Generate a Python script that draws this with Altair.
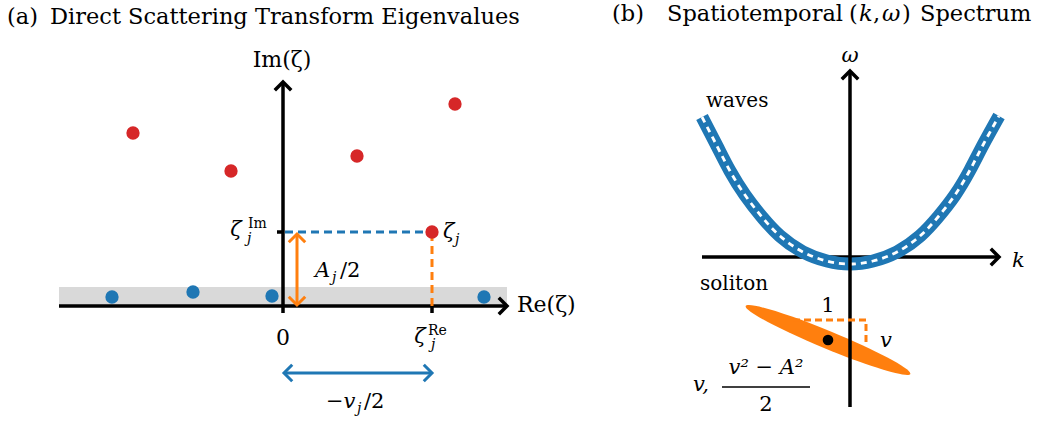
import altair as alt
import pandas as pd

BLUE = "#1f77b4"
ORANGE = "#ff7f0e"
RED = "#d62728"
GREY = "#d9d9d9"
FONT = "DejaVu Serif"

# ---------------- Panel (a): eigenvalues in the complex zeta plane ----------------
red_re = [-3.00, -1.04, 1.48, 3.44]
red_im = [3.46, 2.70, 3.00, 4.04]
zeta_j_re = 2.98
zeta_j_im = 1.48
blue_re = [-3.42, -1.80, -0.22, 4.02]
blue_im = [0.18, 0.28, 0.20, 0.18]
re_axis = [-4.48, 4.48]
im_axis = [-0.14, 4.48]
band_top = 0.38
vj_arrow_y = -1.34
aj_arrow_x = 0.28

# ---------------- Panel (b): (k, omega) spectrum ----------------
wave_k = [-2.96, -2.66, -2.40, -2.10, -1.76, -1.40, -0.94, -0.46, 0.00,
          0.46, 0.94, 1.40, 1.76, 2.10, 2.40, 2.66, 2.98]
wave_w = [2.80, 2.22, 1.72, 1.24, 0.80, 0.42, 0.10, -0.08, -0.14,
          -0.08, 0.10, 0.42, 0.80, 1.24, 1.74, 2.24, 2.82]
k_axis = [-2.96, 2.98]
w_axis = [-3.00, 3.72]
sol_k, sol_w = -0.44, -1.66
sol_angle = 22.4
slope_k = [-1.14, 0.32, 0.32]
slope_w = [-1.26, -1.26, -1.70]

XA, YA = [-5.66, 6.34], [-2.36, 6.12]
XB, YB = [-5.00, 3.80], [-3.34, 5.14]

CHEV = "M -1 1 L 0 0 L 1 1"
ELL = "M -1 0 A 1 0.1 0 1 1 1 0 A 1 0.1 0 1 1 -1 0 Z"

BIG = 21
SMALL = 14
TITLE = 22.5


def axes_for(xdom, ydom):
    def X(f):
        return alt.X(f, type="quantitative",
                     scale=alt.Scale(domain=xdom, nice=False, zero=False), axis=None)

    def Y(f):
        return alt.Y(f, type="quantitative",
                     scale=alt.Scale(domain=ydom, nice=False, zero=False), axis=None)
    return X, Y


def segs(X, Y, rows, **kw):
    df = pd.DataFrame(rows, columns=["x", "y", "x2", "y2"])
    return alt.Chart(df).mark_rule(**kw).encode(x=X("x"), y=Y("y"), x2="x2", y2="y2")


def heads(X, Y, rows, color, sw=3.0, size=270):
    df = pd.DataFrame(rows, columns=["x", "y", "ang"])
    return alt.Chart(df).mark_point(shape=CHEV, filled=False, stroke=color, strokeWidth=sw,
                                    size=size, opacity=1, strokeJoin="miter").encode(
        x=X("x"), y=Y("y"), angle=alt.Angle("ang:Q", scale=None))


def texts(X, Y, rows, size=BIG, style="normal", align="left"):
    df = pd.DataFrame(rows, columns=["x", "y", "t"])
    return alt.Chart(df).mark_text(font=FONT, fontSize=size, fontStyle=style, align=align,
                                   baseline="alphabetic", color="black").encode(
        x=X("x"), y=Y("y"), text="t:N")


# ---------- build panel (a) ----------
X, Y = axes_for(XA, YA)
band = alt.Chart(pd.DataFrame({"x": [re_axis[0]], "x2": [re_axis[1]], "y": [0.0], "y2": [band_top]})
                 ).mark_rect(color=GREY).encode(x=X("x"), x2="x2", y=Y("y"), y2="y2")
a_axes = segs(X, Y, [[re_axis[0], 0, re_axis[1], 0], [0, im_axis[0], 0, im_axis[1]]],
              color="black", strokeWidth=3.5)
a_ticks = segs(X, Y, [[-0.12, zeta_j_im, 0, zeta_j_im], [zeta_j_re, -0.14, zeta_j_re, 0]],
               color="black", strokeWidth=3.5)
a_heads = heads(X, Y, [[re_axis[1], 0, 90], [0, im_axis[1], 0]], "black", sw=3.5)
dash_blue = segs(X, Y, [[0.04, zeta_j_im, zeta_j_re - 0.04, zeta_j_im]],
                 color=BLUE, strokeWidth=3, strokeDash=[8, 5])
dash_orange = segs(X, Y, [[zeta_j_re, 0.0, zeta_j_re, zeta_j_im - 0.12]],
                   color=ORANGE, strokeWidth=3, strokeDash=[8, 5])
aj_line = segs(X, Y, [[aj_arrow_x, 0.02, aj_arrow_x, zeta_j_im - 0.04]], color=ORANGE, strokeWidth=3)
aj_heads = heads(X, Y, [[aj_arrow_x, 0.02, 180], [aj_arrow_x, zeta_j_im - 0.04, 0]], ORANGE)
vj_line = segs(X, Y, [[0.02, vj_arrow_y, zeta_j_re, vj_arrow_y]], color=BLUE, strokeWidth=3)
vj_heads = heads(X, Y, [[0.02, vj_arrow_y, 270], [zeta_j_re, vj_arrow_y, 90]], BLUE)
blue_pts = alt.Chart(pd.DataFrame({"x": blue_re, "y": blue_im})).mark_circle(
    size=177, color=BLUE, opacity=1).encode(x=X("x"), y=Y("y"))
red_pts = alt.Chart(pd.DataFrame({"x": red_re + [zeta_j_re], "y": red_im + [zeta_j_im]})).mark_circle(
    size=177, color=RED, opacity=1).encode(x=X("x"), y=Y("y"))

a_title = texts(X, Y, [[-5.52, 5.64, "(a)"],
                       [-4.66, 5.64, "Direct Scattering Transform Eigenvalues"]], size=TITLE)
a_up_c = texts(X, Y, [[-0.02, 4.78, "Im(ζ)"], [0.0, -0.78, "0"]], size=22, align="center")
a_up_l = texts(X, Y, [[4.68, -0.12, "Re(ζ)"]], size=22)
a_up_l2 = texts(X, Y, [[1.14, 0.58, "/2"], [1.62, -2.04, "/2"]])
a_it_c = texts(X, Y, [[-0.94, 1.40, "ζ"], [2.74, -0.74, "ζ"]], style="italic", align="center")
a_it_l = texts(X, Y, [[3.20, 1.36, "ζ"], [0.64, 0.58, "A"], [0.86, -2.04, "−v"]], style="italic")
a_sub = texts(X, Y, [[-0.72, 1.26, "j"], [3.44, 1.24, "j"], [2.96, -0.86, "j"], [0.98, 0.48, "j"],
                     [1.48, -2.14, "j"]], size=SMALL, style="italic")
a_sup = texts(X, Y, [[-0.70, 1.56, "Im"], [2.90, -0.58, "Re"]], size=SMALL)

panel_a = alt.layer(band, a_axes, a_ticks, a_heads, dash_blue, dash_orange, aj_line, aj_heads,
                    vj_line, vj_heads, blue_pts, red_pts, a_title, a_up_c, a_up_l, a_up_l2, a_it_c,
                    a_it_l, a_sub, a_sup).properties(width=600, height=424)

# ---------- build panel (b) ----------
X, Y = axes_for(XB, YB)
k_ax = segs(X, Y, [[k_axis[0], 0, k_axis[1], 0]], color="black", strokeWidth=3.5)
w_ax = segs(X, Y, [[0, w_axis[0], 0, w_axis[1]]], color="black", strokeWidth=3.5)
b_heads = heads(X, Y, [[k_axis[1], 0, 90], [0, w_axis[1], 0]], "black", sw=3.5)
wdf = pd.DataFrame({"k": wave_k, "w": wave_w})
wave_band = alt.Chart(wdf).mark_line(color=BLUE, strokeWidth=13, strokeCap="butt",
                                     interpolate="natural").encode(x=X("k"), y=Y("w"))
wave_dash = alt.Chart(wdf).mark_line(color="white", strokeWidth=2.8, strokeDash=[6, 5],
                                     interpolate="natural").encode(x=X("k"), y=Y("w"))
sol = alt.Chart(pd.DataFrame({"k": [sol_k], "w": [sol_w]}))
sol_ell = sol.mark_point(shape=ELL, filled=True, color=ORANGE, strokeWidth=0, opacity=1,
                         size=31684, angle=sol_angle).encode(x=X("k"), y=Y("w"))
sol_dot = sol.mark_circle(size=113, color="black", opacity=1).encode(x=X("k"), y=Y("w"))
sdf = pd.DataFrame({"k": slope_k, "w": slope_w, "o": [0, 1, 2]})
slope = alt.Chart(sdf).mark_line(color=ORANGE, strokeWidth=3, strokeDash=[7, 4],
                                 strokeJoin="round").encode(x=X("k"), y=Y("w"), order="o:Q")
bar = segs(X, Y, [[-2.56, -2.60, -0.80, -2.60]], color="black", strokeWidth=1.3)

TY = 4.72
b_title = texts(X, Y, [[-4.76, TY, "(b)"], [-3.66, TY, "Spatiotemporal"], [-0.02, TY, "("],
                       [0.46, TY, ","], [1.04, TY, ")"], [1.40, TY, "Spectrum"]], size=TITLE)
b_title_it = texts(X, Y, [[0.18, TY, "k"], [0.64, TY, "ω"]], size=TITLE, style="italic")
b_words = texts(X, Y, [[-2.88, 3.00, "waves"], [-3.00, -0.66, "soliton"]], size=20)
b_up_c = texts(X, Y, [[-0.44, -1.10, "1"], [-1.68, -3.08, "2"]], align="center")
b_it_c = texts(X, Y, [[0.0, 3.90, "ω"], [-1.68, -2.34, "v² − A²"]], style="italic",
               align="center")
b_it_l = texts(X, Y, [[3.24, -0.20, "k"], [0.60, -1.80, "v"], [-3.14, -2.68, "v,"]],
               style="italic")

panel_b = alt.layer(k_ax, wave_band, wave_dash, sol_ell, w_ax, b_heads, slope, sol_dot, bar,
                    b_title, b_title_it, b_words, b_up_c, b_it_c, b_it_l).properties(width=440, height=424)

chart = alt.hconcat(panel_a, panel_b, spacing=0, bounds="flush", padding=0).configure_view(stroke=None)
chart.save("out.html", embed_options={"renderer": "svg", "actions": False})
